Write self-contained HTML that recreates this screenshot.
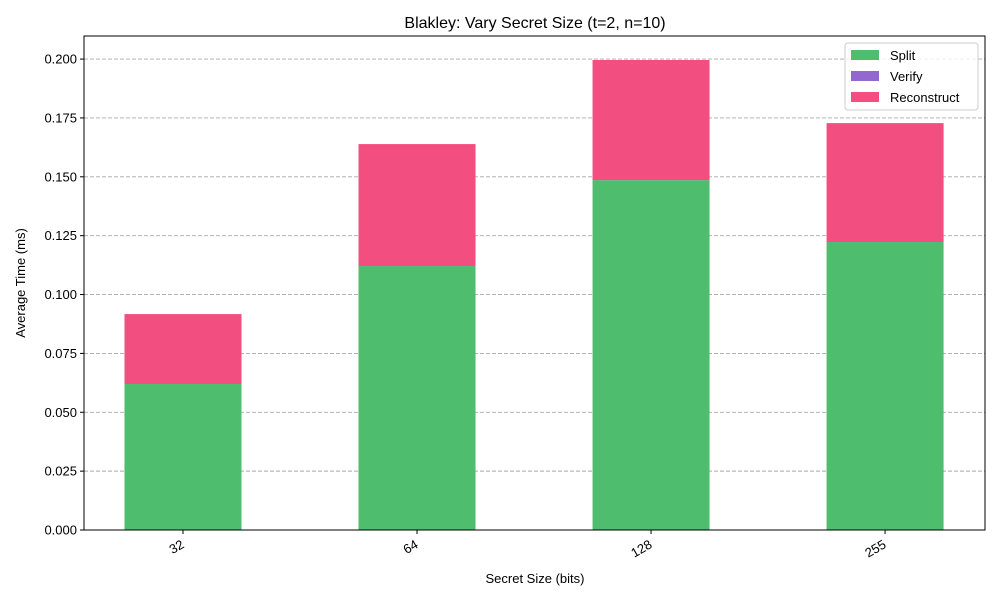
<!DOCTYPE html>
<html><head><meta charset="utf-8">
<style>
body{margin:0;background:#fff;font-family:"Liberation Sans",sans-serif;}
svg text{font-family:"Liberation Sans",sans-serif;}
</style></head>
<body>
<svg id="chart" width="1000" height="600" xmlns="http://www.w3.org/2000/svg"></svg>
<script>
const categories = ["32","64","128","255"];
const splitVals = [0.0620, 0.1121, 0.1486, 0.1223];
const verifyVals = [0, 0, 0, 0];
const reconVals = [0.0297, 0.0518, 0.0510, 0.0505];
const yTicks = [0, 0.025, 0.05, 0.075, 0.1, 0.125, 0.15, 0.175, 0.2];
const yTickLabels = ["0.000","0.025","0.050","0.075","0.100","0.125","0.150","0.175","0.200"];
const seriesNames = ["Split","Verify","Reconstruct"];

const svg = document.getElementById('chart');
const NS = 'http://www.w3.org/2000/svg';
const L=84, R=985, T=36, B=530;
const yMax=0.2098;
const xMin=-0.423, xMax=3.427;
function y(v){return B-(v/yMax)*(B-T);}
function x(i){return L+(i-xMin)/(xMax-xMin)*(R-L);}
const bw = 0.5*(R-L)/(xMax-xMin);
const colors=["#4ebd6e","#9467d0","#f24e7f"];
function el(tag, attrs, text){const e=document.createElementNS(NS,tag);for(const k in attrs)e.setAttribute(k,attrs[k]);if(text!==undefined)e.textContent=text;svg.appendChild(e);return e;}

el('text',{x:535,y:28,'text-anchor':'middle','font-size':16,fill:'#000',},'Blakley: Vary Secret Size (t=2, n=10)');

yTicks.forEach((t,i)=>{
  const g=el('line',{x1:L,x2:R,y1:y(t),y2:y(t),stroke:'#a8a8a8','stroke-dasharray':'4,2','stroke-width':0.9});
  
  
  el('line',{x1:L-4,x2:L,y1:y(t),y2:y(t),stroke:'#000'});
  const lb=el('text',{x:L-7,y:y(t)+4.5,'text-anchor':'end','font-size':13,fill:'#000'},yTickLabels[i]);
  
  
});

categories.forEach((c,i)=>{
  const cx=x(i);
  let base=0;
  [splitVals,verifyVals,reconVals].forEach((arr,s)=>{
    const v=arr[i];
    const r=el('rect',{x:cx-bw/2,y:y(base+v),width:bw,height:y(base)-y(base+v),fill:colors[s]});
    
    
    base+=v;
  });
  el('line',{x1:cx,x2:cx,y1:B,y2:B+4,stroke:'#000'});
  const t=el('text',{transform:`translate(${cx+2},${B+17}) rotate(-30)`,'text-anchor':'end','font-size':13,fill:'#000'},c);
  
  
});

el('rect',{x:L,y:T,width:R-L,height:B-T,fill:'none',stroke:'#000','stroke-width':1,});
el('text',{x:535,y:583,'text-anchor':'middle','font-size':13,fill:'#000',},'Secret Size (bits)');
el('text',{transform:'translate(25,283) rotate(-90)','text-anchor':'middle','font-size':13,fill:'#000',},'Average Time (ms)');

el('rect',{x:845,y:43,width:133,height:67,rx:3,fill:'#fff','fill-opacity':0.8,stroke:'#ccc',});
seriesNames.forEach((n,i)=>{
  const yy=50+i*21;
  const sw=el('rect',{x:851,y:yy,width:28,height:10,fill:colors[i]});
  
  
  const t=el('text',{x:890,y:yy+10,'font-size':13,fill:'#000'},n);
  
  
});
</script>
</body></html>
